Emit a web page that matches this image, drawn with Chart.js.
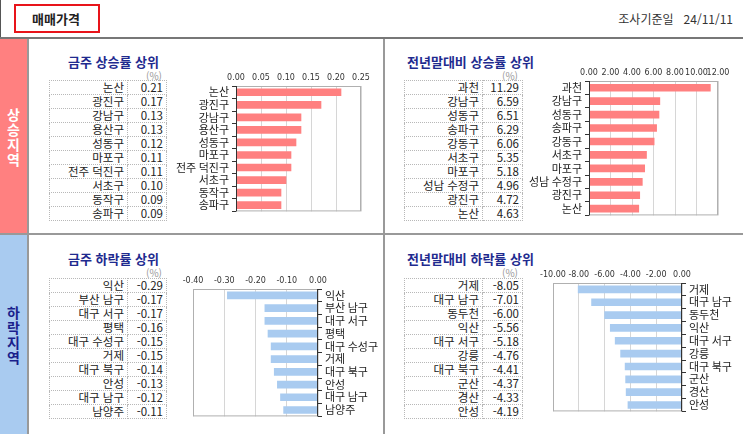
<!DOCTYPE html>
<html lang="ko">
<head>
<meta charset="UTF-8">
<title>매매가격</title>
<script src="https://cdn.jsdelivr.net/npm/chart.js"></script>
<style>
  body {
    margin: 0;
    width: 743px;
    height: 434px;
    position: relative;
    overflow: hidden;
    background: #fff;
    font-family: "Noto Sans CJK KR", "Noto Sans", sans-serif;
    color: #222;
  }
  .abs { position: absolute; }
  .head-badge {
    left: 14px; top: 4px; width: 82px; height: 25px;
    border: 2px solid #e8141a;
    font-weight: bold; font-size: 13px;
    line-height: 25px;
    text-indent: 16px;
  }
  .date { right: 10px; top: 10px; font-size: 12px; color: #333; }
  .side {
    left: 0; width: 27px;
    font-weight: bold; font-size: 14px;
    text-align: center;
  }
  .side div { line-height: 15px; height: 15px; }
  .title { font-weight: bold; font-size: 13px; color: #1f2b8f; }
  .unit { font-size: 10px; color: #999; }
  table.rank {
    position: absolute;
    border-collapse: collapse;
    font-size: 11.5px;
    table-layout: fixed;
  }
  table.rank td {
    border: 1px dotted #b8b8b8;
    padding: 0 3px 0 0;
    text-align: right;
    height: 13px;
    line-height: 13px;
    white-space: nowrap;
  }
  canvas.bar { position: absolute; }
</style>
</head>
<body>

<!-- header -->
<div class="abs" style="left:0;top:0;width:1px;height:38px;background:#555"></div>
<div class="abs head-badge">매매가격</div>
<div class="abs date">조사기준일&nbsp;&nbsp;&nbsp;24/11/11</div>
<div class="abs" style="left:0;top:37px;width:743px;height:2px;background:#777"></div>

<!-- side labels -->
<div class="abs side" style="top:39px;height:194px;background:#ff8080;color:#fff">
  <div style="height:68px"></div>
  <div>상</div><div>승</div><div>지</div><div>역</div>
</div>
<div class="abs side" style="top:235px;height:199px;background:#a9cbf0;color:#1a1f8c">
  <div style="height:70px"></div>
  <div>하</div><div>락</div><div>지</div><div>역</div>
</div>
<div class="abs" style="left:27px;top:39px;width:2px;height:395px;background:#999"></div>
<div class="abs" style="left:0;top:233px;width:743px;height:2px;background:#999"></div>
<div class="abs" style="left:383px;top:39px;width:2px;height:395px;background:#999"></div>

<!-- titles -->
<div class="abs title" style="left:68px;top:52px">금주 상승률 상위</div>
<div class="abs title" style="left:407px;top:52px">전년말대비 상승률 상위</div>
<div class="abs title" style="left:68px;top:249px">금주 하락률 상위</div>
<div class="abs title" style="left:407px;top:249px">전년말대비 하락률 상위</div>

<div class="abs unit" style="left:146px;top:68px">(%)</div>
<div class="abs unit" style="left:502px;top:68px">(%)</div>
<div class="abs unit" style="left:146px;top:265px">(%)</div>
<div class="abs unit" style="left:502px;top:265px">(%)</div>

<table class="rank" id="tblWeekUp" style="left:49px;top:80px;width:118px"></table>
<table class="rank" id="tblYearUp" style="left:404px;top:80px;width:119px"></table>
<table class="rank" id="tblWeekDown" style="left:49px;top:278px;width:118px"></table>
<table class="rank" id="tblYearDown" style="left:404px;top:278px;width:119px"></table>

<canvas class="bar" id="chartWeekUp" style="left:170px;top:66px" width="210" height="155"></canvas>
<canvas class="bar" id="chartYearUp" style="left:529px;top:61px" width="205" height="164"></canvas>
<canvas class="bar" id="chartWeekDown" style="left:170px;top:269px" width="218" height="157"></canvas>
<canvas class="bar" id="chartYearDown" style="left:533px;top:263px" width="209" height="158"></canvas>

<script>
  // 금주 상승률 상위
  const weekUpNames = ['논산', '광진구', '강남구', '용산구', '성동구', '마포구', '전주 덕진구', '서초구', '동작구', '송파구'];
  const weekUpValues = [0.21, 0.17, 0.13, 0.13, 0.12, 0.11, 0.11, 0.10, 0.09, 0.09];

  // 전년말대비 상승률 상위
  const yearUpNames = ['과천', '강남구', '성동구', '송파구', '강동구', '서초구', '마포구', '성남 수정구', '광진구', '논산'];
  const yearUpValues = [11.29, 6.59, 6.51, 6.29, 6.06, 5.35, 5.18, 4.96, 4.72, 4.63];

  // 금주 하락률 상위
  const weekDownNames = ['익산', '부산 남구', '대구 서구', '평택', '대구 수성구', '거제', '대구 북구', '안성', '대구 남구', '남양주'];
  const weekDownValues = [-0.29, -0.17, -0.17, -0.16, -0.15, -0.15, -0.14, -0.13, -0.12, -0.11];

  // 전년말대비 하락률 상위
  const yearDownNames = ['거제', '대구 남구', '동두천', '익산', '대구 서구', '강릉', '대구 북구', '군산', '경산', '안성'];
  const yearDownValues = [-8.05, -7.01, -6.00, -5.56, -5.18, -4.76, -4.41, -4.37, -4.33, -4.19];

  const PINK = '#ff8080';
  const BLUE = '#a9cbf0';

  function fillTable(id, names, values, labelWidth) {
    const tbl = document.getElementById(id);
    tbl.innerHTML = names.map((n, i) =>
      `<tr><td style="width:${labelWidth}px">${n}</td><td>${values[i].toFixed(2)}</td></tr>`
    ).join('');
  }
  fillTable('tblWeekUp', weekUpNames, weekUpValues, 74);
  fillTable('tblYearUp', yearUpNames, yearUpValues, 74);
  fillTable('tblWeekDown', weekDownNames, weekDownValues, 74);
  fillTable('tblYearDown', yearDownNames, yearDownValues, 74);

  // light box around the plot, darker line on the category side
  const plotBox = {
    id: 'plotBox',
    afterDraw(chart, args, opts) {
      const a = chart.chartArea, ctx = chart.ctx;
      ctx.save();
      ctx.strokeStyle = '#b0b0b0';
      ctx.lineWidth = 1;
      ctx.strokeRect(a.left + 0.5, a.top + 0.5, a.right - a.left - 1, a.bottom - a.top - 1);
      ctx.strokeStyle = '#333';
      const x = opts.side === 'right' ? a.right - 0.5 : a.left + 0.5;
      ctx.beginPath();
      ctx.moveTo(x, a.top);
      ctx.lineTo(x, a.bottom);
      ctx.stroke();
      ctx.restore();
    }
  };

  function makeChart(id, names, values, color, o) {
    new Chart(document.getElementById(id), {
      type: 'bar',
      data: {
        labels: names,
        datasets: [{ data: values, backgroundColor: color, barThickness: 7 }]
      },
      options: {
        indexAxis: 'y',
        responsive: false,
        animation: false,
        layout: { padding: o.padding },
        plugins: {
          legend: { display: false },
          tooltip: { enabled: false },
          plotBox: { side: o.side }
        },
        scales: {
          x: {
            position: 'top',
            min: o.min, max: o.max,
            afterFit: s => { s.height = 20; },
            ticks: {
              stepSize: o.step,
              padding: 3,
              maxRotation: 0,
              minRotation: 0,
              autoSkip: false,
              color: '#333',
              font: { size: 8, family: 'DejaVu Sans' },
              callback: v => v.toFixed(2)
            },
            grid: { color: '#d6d6d6', drawTicks: false },
            border: { display: false }
          },
          y: {
            position: o.side,
            afterFit: s => { s.width = o.axisWidth; },
            ticks: {
              autoSkip: false,
              color: '#222',
              padding: 3,
              font: { size: 11, family: '"Noto Sans CJK KR"' }
            },
            grid: { drawOnChartArea: false, tickLength: 4, color: '#333' },
            border: { display: false }
          }
        }
      },
      plugins: [plotBox]
    });
  }

  makeChart('chartWeekUp', weekUpNames, weekUpValues, PINK,
    { min: 0, max: 0.25, step: 0.05, side: 'left', axisWidth: 66, padding: { left: 0, right: 19, top: 0, bottom: 4 } });
  makeChart('chartYearUp', yearUpNames, yearUpValues, PINK,
    { min: 0, max: 12, step: 2, side: 'left', axisWidth: 60, padding: { left: 0, right: 16, top: 0, bottom: 4 } });
  makeChart('chartWeekDown', weekDownNames, weekDownValues, BLUE,
    { min: -0.4, max: 0, step: 0.1, side: 'right', axisWidth: 70, padding: { left: 23, right: 0, top: 0, bottom: 4 } });
  makeChart('chartYearDown', yearDownNames, yearDownValues, BLUE,
    { min: -10, max: 0, step: 2, side: 'right', axisWidth: 60, padding: { left: 20, right: 0, top: 0, bottom: 4 } });
</script>
</body>
</html>
